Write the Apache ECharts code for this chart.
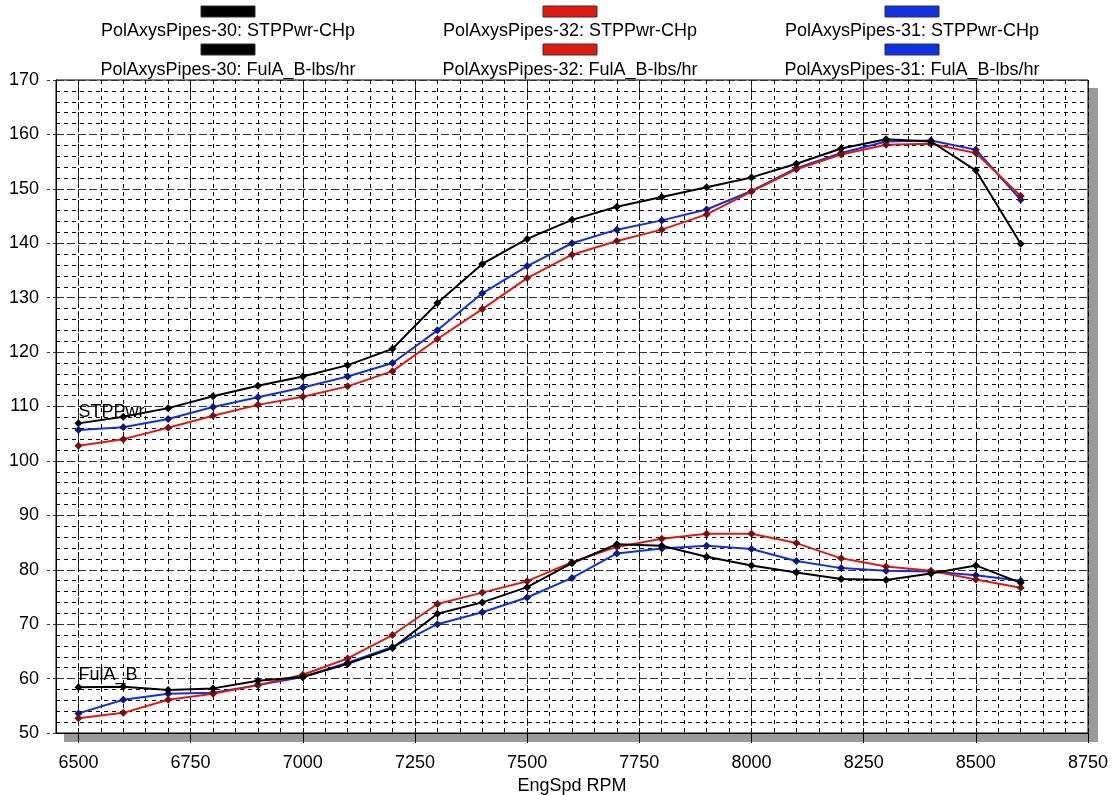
<!DOCTYPE html>
<html>
<head>
<meta charset="utf-8">
<script src="https://cdn.jsdelivr.net/npm/echarts@6/dist/echarts.min.js"></script>
<style>
html, body { margin: 0; padding: 0; background: #fff; }
#main { width: 1112px; height: 795px; }
</style>
</head>
<body>
<div id="main"></div>
<script>
var rpm = [6500, 6600, 6700, 6800, 6900, 7000, 7100, 7200, 7300, 7400, 7500,
           7600, 7700, 7800, 7900, 8000, 8100, 8200, 8300, 8400, 8500, 8600];

// STPPwr-CHp
var pwr30 = [106.9, 108.1, 109.7, 111.9, 113.8, 115.5, 117.6, 120.6, 129.0, 136.2, 140.8,
             144.3, 146.7, 148.5, 150.3, 152.1, 154.6, 157.4, 159.1, 158.7, 153.4, 139.9];
var pwr32 = [102.8, 104.0, 106.1, 108.3, 110.3, 111.8, 113.7, 116.5, 122.4, 127.9, 133.6,
             137.9, 140.4, 142.5, 145.3, 149.5, 153.6, 156.3, 158.1, 158.3, 156.6, 148.7];
var pwr31 = [105.7, 106.2, 107.7, 109.9, 111.7, 113.5, 115.5, 118.0, 124.0, 130.8, 135.8,
             140.0, 142.5, 144.2, 146.2, 149.6, 153.8, 156.6, 158.7, 158.9, 157.2, 148.0];

// FulA_B-lbs/hr
var ful30 = [58.4, 58.5, 57.9, 58.2, 59.6, 60.3, 62.7, 65.6, 71.9, 74.0, 76.8,
             81.2, 84.7, 84.4, 82.4, 80.8, 79.5, 78.3, 78.1, 79.3, 80.8, 77.6];
var ful32 = [52.7, 53.7, 56.1, 57.2, 58.8, 60.7, 63.7, 68.0, 73.7, 75.8, 77.9,
             81.4, 84.2, 85.7, 86.6, 86.6, 84.9, 82.1, 80.6, 79.8, 78.2, 76.7];
var ful31 = [53.6, 56.1, 57.2, 57.4, 58.8, 60.3, 62.9, 65.8, 70.0, 72.2, 74.9,
             78.5, 83.0, 83.9, 84.4, 83.8, 81.6, 80.3, 79.8, 79.7, 79.0, 78.0];

var xTicks = [6500, 6750, 7000, 7250, 7500, 7750, 8000, 8250, 8500, 8750];

var runs = ['PolAxysPipes-30', 'PolAxysPipes-32', 'PolAxysPipes-31'];
var chans = ['STPPwr-CHp', 'FulA_B-lbs/hr'];
var lineColors = ['#000000', '#e21a0e', '#1030e6'];
var dotColors = ['#000000', '#7a0d0d', '#0b1a80'];

function pairs(arr) {
    return rpm.map(function (r, i) { return [r, arr[i]]; });
}

var font = 'Liberation Sans, Arial, sans-serif';
var seriesData = [[pwr30, ful30], [pwr32, ful32], [pwr31, ful31]];
var series = [];
var legendG = [];
var colX = [228, 570, 912];

runs.forEach(function (run, i) {
    chans.forEach(function (ch, j) {
        var s = {
            name: run + ': ' + ch,
            type: 'line',
            xAxisIndex: 0,
            data: pairs(seriesData[i][j]),
            symbol: 'diamond',
            symbolSize: 8,
            showAllSymbol: true,
            lineStyle: { color: lineColors[i], width: 2 },
            itemStyle: { color: dotColors[i] },
            z: 10 - i
        };
        if (i === 0) {
            s.markPoint = {
                symbol: 'circle',
                symbolSize: 0,
                label: {
                    show: true,
                    position: 'right',
                    distance: 0,
                    color: '#000',
                    fontFamily: font,
                    fontSize: 18,
                    formatter: j === 0 ? 'STPPwr' : 'FulA_B'
                },
                data: [{ coord: [6500, j === 0 ? 108.9 : 60.6] }]
            };
        }
        series.push(s);
        // legend entry: colored bar over the text
        legendG.push({
            type: 'rect',
            shape: { x: colX[i] - 27, y: 6 + j * 38, width: 54, height: 11 },
            style: { fill: lineColors[i], stroke: '#333', lineWidth: 1 }
        });
        legendG.push({
            type: 'text',
            x: colX[i],
            y: 31 + j * 39,
            style: {
                text: run + ': ' + ch,
                fill: '#000',
                font: '18px ' + font,
                align: 'center',
                verticalAlign: 'middle'
            }
        });
    });
});

var myChart = echarts.init(document.getElementById('main'));
var option = {
    backgroundColor: '#fff',
    animation: false,
    grid: {
        left: 56,
        right: 24,
        top: 80,
        bottom: 62,
        containLabel: false,
        outerBoundsMode: 'none',
        show: true,
        backgroundColor: '#fff',
        borderColor: '#000',
        borderWidth: 1
    },
    graphic: [{
        type: 'rect',
        z: -5,
        shape: { x: 64, y: 88, width: 1034, height: 654 },
        style: { fill: '#9a9a9a' }
    }].concat(legendG),
    xAxis: [{
        type: 'value',
        min: 6450,
        max: 8750,
        position: 'bottom',
        name: 'EngSpd RPM',
        nameLocation: 'middle',
        nameGap: 35,
        nameTextStyle: { color: '#000', fontFamily: font, fontSize: 18 },
        axisLine: { show: true, lineStyle: { color: '#000' } },
        axisTick: {
            show: true,
            length: 10,
            customValues: xTicks,
            lineStyle: { color: '#000' }
        },
        axisLabel: {
            customValues: xTicks,
            margin: 21,
            color: '#000',
            fontFamily: font,
            fontSize: 18,
            formatter: function (v) { return String(v); }
        },
        splitLine: {
            show: true,
            lineStyle: { color: '#333', type: [8, 3], width: 1 }
        }
    }, {
        type: 'value',
        min: 6450,
        max: 8750,
        interval: 50,
        position: 'top',
        axisLine: { show: false },
        axisTick: { show: false },
        axisLabel: { show: false },
        splitLine: {
            show: true,
            lineStyle: { color: '#000', type: [4, 4], width: 1 }
        }
    }],
    yAxis: {
        type: 'value',
        min: 50,
        max: 170,
        interval: 10,
        axisLine: { show: true, lineStyle: { color: '#000' } },
        axisTick: { show: true, length: 10, lineStyle: { color: '#333', type: [3, 3] } },
        axisLabel: {
            margin: 17,
            color: '#000',
            fontFamily: font,
            fontSize: 18
        },
        splitLine: {
            show: true,
            lineStyle: { color: '#333', type: [8, 3], width: 1 }
        },
        minorTick: { show: false, splitNumber: 5 },
        minorSplitLine: {
            show: true,
            lineStyle: { color: '#000', type: [4, 4], width: 1 }
        }
    },
    series: series
};
myChart.setOption(option);
</script>
</body>
</html>
